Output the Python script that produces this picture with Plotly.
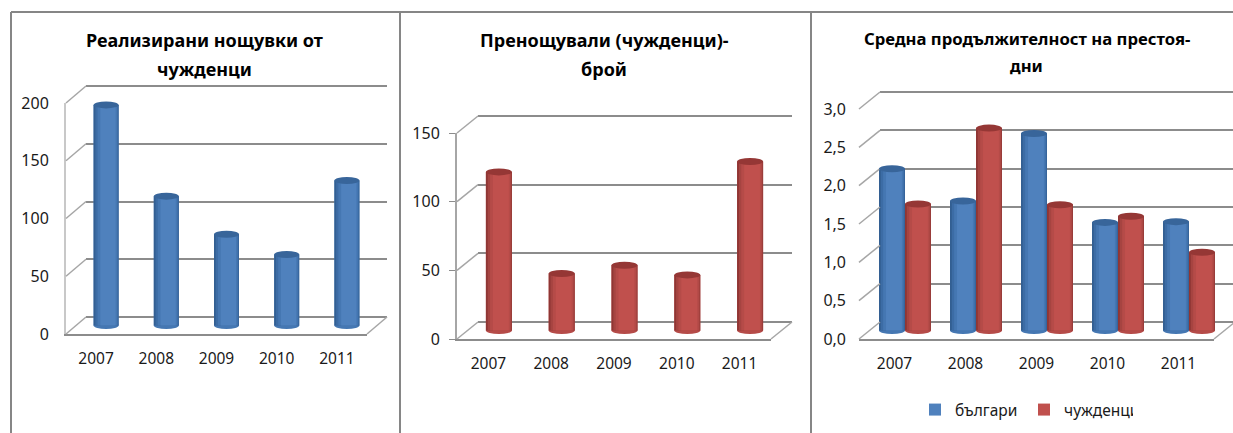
import plotly.graph_objects as go

W, H = 1233, 433

years = ["2007", "2008", "2009", "2010", "2011"]

nights_foreign = [191, 112, 79, 61.5, 125.5]
guests_foreign = [115.5, 41.5, 47.5, 40.5, 123]
stay_bulgarians = [2.11, 1.69, 2.57, 1.41, 1.42]
stay_foreigners = [1.65, 2.64, 1.64, 1.49, 1.02]

ticks_1 = [0, 50, 100, 150, 200]
ticks_2 = [0, 50, 100, 150]
ticks_3 = [0, 0.5, 1, 1.5, 2, 2.5, 3]

title_1 = ["Реализирани нощувки от", "чужденци"]
title_2 = ["Пренощували (чужденци)-", "брой"]
title_3 = ["Средна продължителност на престоя-", "дни"]

BLUE = ["#4f81bd", "#335f92", "#3c6ca5", "#4577b2", "#4f81bd", "#38659a"]
RED = ["#c0504d", "#8f3634", "#a64441", "#b54b48", "#c0504d", "#953735"]
STRIPS = [(0.0, 1.0), (0.07, 0.98), (0.16, 0.94), (0.27, 0.88)]

charts = [
    dict(title=title_1, tsize=18, tx=204.5, ty=(40, 69), left=66, right=367, bottom=334, top=103,
         dx=20, dy=17, ticks=ticks_1, fmt="d", vline="#c8c8c8", tick=0, barw=25,
         series=[("nights", nights_foreign, BLUE, 0)]),
    dict(title=title_2, tsize=18, tx=604, ty=(40, 69), left=457, right=771, bottom=339, top=133,
         dx=21, dy=17, ticks=ticks_2, fmt="d", vline="#a6a6a6", tick=6, barw=26,
         series=[("guests", guests_foreign, RED, 0)]),
    dict(title=title_3, tsize=16.7, tx=1026.5, ty=(38.5, 66), left=859, right=1214, bottom=339, top=109,
         dx=21, dy=17, ticks=ticks_3, fmt=".1f", vline=None, tick=0, barw=26,
         series=[("българи", stay_bulgarians, BLUE, -0.5), ("чужденци", stay_foreigners, RED, 0.5)]),
]

FONT = "Noto Sans"
GRID = "#8c8c8c"


def fx(p):
    return p / W


def fy(p):
    return 1 - p / H


fig = go.Figure()
layout = dict(
    width=W, height=H, margin=dict(l=0, r=0, t=0, b=0), autosize=False,
    paper_bgcolor="white", plot_bgcolor="rgba(0,0,0,0)", barmode="overlay",
    separators=", ", font=dict(family=FONT, color="#1a1a1a"),
    showlegend=True,
    legend=dict(orientation="h", x=fx(915), y=fy(410), yanchor="middle", xanchor="left",
                font=dict(size=15.5, family=FONT), bgcolor="rgba(0,0,0,0)", itemwidth=30,
                entrywidth=64, entrywidthmode="pixels", traceorder="normal"),
)
shapes = []
annotations = []

for c, ch in enumerate(charts):
    front, back, mid = 3 * c + 1, 3 * c + 2, 3 * c + 3
    n = len(years)
    vmax = ch["ticks"][-1]
    span = ch["right"] - ch["left"]
    unit = span / n
    scale = (ch["bottom"] - ch["top"]) / vmax
    dx, dy = ch["dx"], ch["dy"]
    hidden = dict(visible=False, showgrid=False, zeroline=False, fixedrange=True, automargin=False)
    xs = list(range(n))

    # invisible carriers so that the front and back axes are drawn
    for ax in (back, front):
        fig.add_trace(go.Scatter(x=[xs[0]] * len(ch["ticks"]), y=ch["ticks"], mode="markers", opacity=0,
                                 showlegend=False, hoverinfo="skip", xaxis=f"x{ax}", yaxis=f"y{ax}"))

    # front plane: labels and floor edge
    layout[f"xaxis{front}"] = dict(
        domain=[fx(ch["left"]), fx(ch["right"])], range=[-0.5, n - 0.5], anchor=f"y{front}", automargin=False,
        tickvals=xs, ticktext=years, tickfont=dict(size=15.5), ticks="",
        ticklabelstandoff=9, showgrid=False, zeroline=False, showline=True, linecolor=GRID, linewidth=2,
    )
    layout[f"yaxis{front}"] = dict(
        domain=[fy(ch["bottom"]), fy(ch["top"])], range=[0, vmax], anchor=f"x{front}", automargin=False,
        tickvals=ch["ticks"], tickformat=ch["fmt"], tickfont=dict(size=16), showgrid=False, zeroline=False,
        ticks="outside" if ch["tick"] else "", ticklen=ch["tick"], tickcolor=GRID,
        ticklabelstandoff=12 - ch["tick"],
        showline=ch["vline"] is not None, linecolor=ch["vline"] or "white", linewidth=2,
    )
    # back wall: gridlines (a little headroom, so the first and last gridlines are kept)
    pad = 5
    back_right = min(ch["right"] + dx, W)
    layout[f"xaxis{back}"] = dict(
        domain=[fx(ch["left"] + dx), fx(back_right)],
        range=[-0.5, -0.5 + (back_right - ch["left"] - dx) / unit], anchor=f"y{back}", **hidden,
    )
    layout[f"yaxis{back}"] = dict(
        domain=[fy(ch["bottom"] - dy + pad), fy(ch["top"] - dy - pad)],
        range=[-pad / scale, vmax + pad / scale], anchor=f"x{back}", automargin=False,
        tickvals=ch["ticks"], showticklabels=False, ticks="", showgrid=True, gridcolor=GRID, gridwidth=2,
        zeroline=False, fixedrange=True,
    )
    # middle plane: the cylinders
    mbot = ch["bottom"] - dy / 2 + 12
    mtop = ch["top"] - dy / 2 - 12
    y0px = ch["bottom"] - dy / 2
    layout[f"xaxis{mid}"] = dict(
        domain=[fx(ch["left"] + dx / 2), fx(ch["right"] + dx / 2)], range=[-0.5, n - 0.5],
        anchor=f"y{mid}", **hidden,
    )
    layout[f"yaxis{mid}"] = dict(
        domain=[fy(mbot), fy(mtop)], range=[(y0px - mbot) / scale, (y0px - mtop) / scale],
        anchor=f"x{mid}", **hidden,
    )

    # slanted wall edges at each tick and the floor's right edge
    for t in ch["ticks"]:
        py = ch["bottom"] - t * scale
        shapes.append(dict(type="line", xref="paper", yref="paper", x0=fx(ch["left"]), y0=fy(py),
                           x1=fx(ch["left"] + dx), y1=fy(py - dy), line=dict(color="#a6a6a6", width=1.5)))
    shapes.append(dict(type="line", xref="paper", yref="paper", x0=fx(ch["right"]), y0=fy(ch["bottom"]),
                       x1=fx(ch["right"] + dx), y1=fy(ch["bottom"] - dy), line=dict(color="#a6a6a6", width=1.5)))

    # cylinders
    bw = ch["barw"] / unit
    for name, vals, col, shift in ch["series"]:
        start = shift * bw - bw / 2
        legend = len(ch["series"]) > 1
        fig.add_trace(go.Bar(x=xs, y=vals, width=bw, offset=start, marker=dict(color=col[0], line=dict(width=0)),
                             name=name, showlegend=legend, xaxis=f"x{mid}", yaxis=f"y{mid}"))
        for i, (l, r) in enumerate(STRIPS):
            fig.add_trace(go.Bar(x=xs, y=vals, width=bw * (r - l), offset=start + bw * l,
                                 marker=dict(color=col[i + 1], line=dict(width=0)),
                                 showlegend=False, xaxis=f"x{mid}", yaxis=f"y{mid}"))
        for x, v in zip(xs, vals):
            common = dict(type="circle", xref=f"x{mid}", yref=f"y{mid}", ysizemode="pixel",
                          x0=x + start, x1=x + start + bw, line=dict(width=0))
            shapes.append(dict(common, yanchor=0, y0=-3.5, y1=3.5, fillcolor=col[3], layer="below"))
            shapes.append(dict(common, yanchor=v, y0=-3.5, y1=3.5, fillcolor=col[5], layer="above"))

    # title lines
    for line, py in zip(ch["title"], ch["ty"]):
        annotations.append(dict(text=f"<b>{line}</b>", xref="paper", yref="paper", x=fx(ch["tx"]), y=fy(py),
                                xanchor="center", yanchor="middle", showarrow=False,
                                font=dict(size=ch["tsize"], family=FONT, color="black")))

# outer frame lines
for x0, y0, x1, y1 in [(11, 12, W, 12), (11, 12, 11, H), (400, 12, 400, H), (811, 12, 811, H)]:
    shapes.append(dict(type="line", xref="paper", yref="paper", x0=fx(x0), y0=fy(y0), x1=fx(x1), y1=fy(y1),
                       line=dict(color="#868686", width=2)))

layout["shapes"] = shapes
layout["annotations"] = annotations
fig.update_layout(**layout)
fig.write_html("out.html", config=dict(displayModeBar=False),
               post_script="document.body.style.margin='0';document.body.style.overflow='hidden';")
